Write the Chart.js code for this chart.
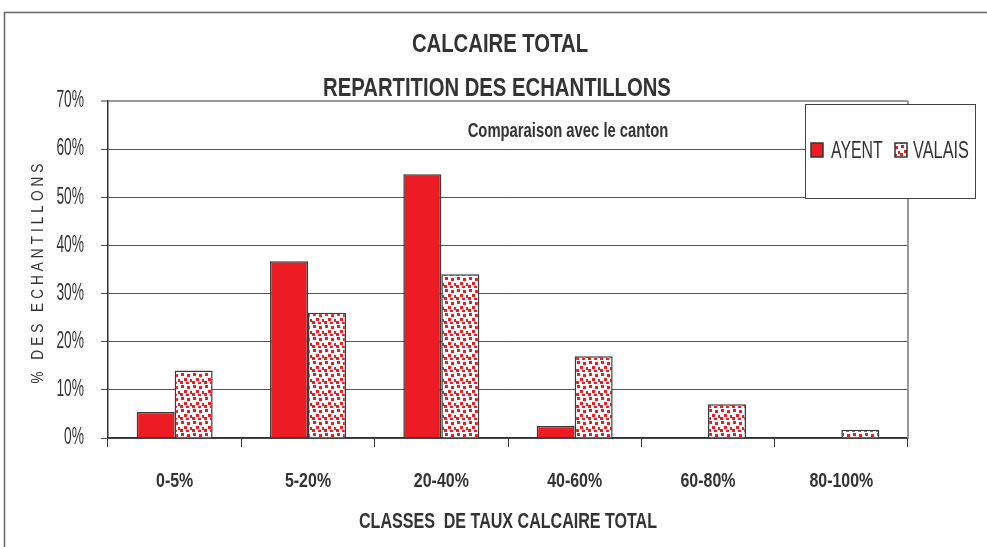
<!DOCTYPE html>
<html>
<head>
<meta charset="utf-8">
<title>Calcaire total</title>
<script src="https://cdn.jsdelivr.net/npm/chart.js@4.4.1/dist/chart.umd.min.js"></script>
<style>
  html, body { margin: 0; padding: 0; background: #fff; }
  #chart { display: block; }
</style>
</head>
<body>
<canvas id="chart" width="987" height="547"></canvas>
<script>
    // Chart data
    const categories = ['0-5%', '5-20%', '20-40%', '40-60%', '60-80%', '80-100%'];
    const ayentValues = [5.4, 36.7, 54.8, 2.5, 0, 0];
    const valaisValues = [14, 26, 34, 17, 7, 1.7];
    const yTicks = [0, 10, 20, 30, 40, 50, 60, 70];

    const RED = '#ed1c24';
    const TEXT = '#333333';
    const FONT = "'Liberation Sans', Arial, sans-serif";

    // Red squares on white, used for the VALAIS bars
    function makeDotPattern() {
      const tile = document.createElement('canvas');
      tile.width = 12;
      tile.height = 12;
      const t = tile.getContext('2d');
      t.fillStyle = '#ffffff';
      t.fillRect(0, 0, 12, 12);
      t.fillStyle = RED;
      [[1, 1], [7, 2], [4, 6], [10, 7], [0, 9], [6, 10]].forEach(p => {
        t.fillRect(p[0], p[1], 3, 3);
      });
      return document.getElementById('chart').getContext('2d').createPattern(tile, 'repeat');
    }

    const dots = makeDotPattern();

    // The original font is a tall condensed face, so squeeze the text horizontally
    function narrowText(ctx, text, x, y, font, sx, align) {
      ctx.save();
      ctx.translate(x, y);
      ctx.scale(sx, 1);
      ctx.font = font;
      ctx.textAlign = align || 'center';
      ctx.textBaseline = 'middle';
      ctx.fillText(text, 0, 0);
      ctx.restore();
    }

    // Frame, titles, tick labels, axis titles and legend box
    const decorPlugin = {
      id: 'decor',
      beforeDraw(chart) {
        const ctx = chart.ctx;
        ctx.save();
        ctx.fillStyle = '#ffffff';
        ctx.fillRect(0, 0, chart.width, chart.height);
        ctx.strokeStyle = '#666666';
        ctx.lineWidth = 1.5;
        ctx.beginPath();
        ctx.moveTo(4.5, chart.height + 2);
        ctx.lineTo(4.5, 12.5);
        ctx.lineTo(chart.width + 2, 12.5);
        ctx.stroke();
        ctx.restore();
      },
      afterDraw(chart) {
        const ctx = chart.ctx;
        const area = chart.chartArea;
        const xScale = chart.scales.x;
        const yScale = chart.scales.y;
        ctx.save();

        // right border of the plot area
        ctx.strokeStyle = '#999999';
        ctx.lineWidth = 2;
        ctx.beginPath();
        ctx.moveTo(area.right, area.top);
        ctx.lineTo(area.right, area.bottom);
        ctx.stroke();

        ctx.fillStyle = TEXT;

        // tick labels, placed by the scales
        yScale.ticks.forEach((tick, i) => {
          narrowText(ctx, tick.label, 84, yScale.getPixelForTick(i), '23px ' + FONT, 0.6, 'right');
        });
        xScale.ticks.forEach((tick, i) => {
          narrowText(ctx, tick.label, xScale.getPixelForTick(i), 481, 'bold 21px ' + FONT, 0.76);
        });

        // titles
        narrowText(ctx, 'CALCAIRE TOTAL', 500, 45, 'bold 26px ' + FONT, 0.78);
        narrowText(ctx, 'REPARTITION DES ECHANTILLONS', 497, 89, 'bold 26px ' + FONT, 0.78);
        narrowText(ctx, 'Comparaison avec le canton', 568, 131, 'bold 20px ' + FONT, 0.74);

        // x axis title
        narrowText(ctx, 'CLASSES  DE TAUX CALCAIRE TOTAL', 508, 522, 'bold 22px ' + FONT, 0.73);

        // y axis title, spaced letters
        ctx.save();
        ctx.translate(38, 274);
        ctx.rotate(-Math.PI / 2);
        ctx.scale(0.8, 1);
        ctx.font = '17px ' + FONT;
        ctx.letterSpacing = '5px';
        ctx.textAlign = 'center';
        ctx.textBaseline = 'middle';
        ctx.fillText('% DES ECHANTILLONS', 3, 0);
        ctx.restore();

        // legend box
        ctx.fillStyle = '#ffffff';
        ctx.fillRect(805, 104, 170, 94);
        ctx.strokeStyle = '#444444';
        ctx.lineWidth = 1;
        ctx.strokeRect(805.5, 104.5, 170, 94);

        ctx.lineWidth = 1.5;
        ctx.strokeStyle = '#333333';
        ctx.fillStyle = RED;
        ctx.fillRect(811, 143, 12, 14);
        ctx.strokeRect(811, 143, 12, 14);
        ctx.fillStyle = dots;
        ctx.fillRect(895, 143, 12, 14);
        ctx.strokeRect(895, 143, 12, 14);

        ctx.fillStyle = TEXT;
        narrowText(ctx, 'AYENT', 831, 151, '24px ' + FONT, 0.66, 'left');
        narrowText(ctx, 'VALAIS', 913, 151, '24px ' + FONT, 0.68, 'left');

        ctx.restore();
      }
    };

    const barChart = new Chart(document.getElementById('chart'), {
      type: 'bar',
      data: {
        labels: categories,
        datasets: [
          {
            label: 'AYENT',
            data: ayentValues,
            backgroundColor: RED,
            borderColor: '#3a3a3a',
            borderWidth: 1.5,
            categoryPercentage: 0.57,
            barPercentage: 1.0
          },
          {
            label: 'VALAIS',
            data: valaisValues,
            backgroundColor: dots,
            borderColor: '#3a3a3a',
            borderWidth: 1.5,
            categoryPercentage: 0.57,
            barPercentage: 1.0
          }
        ]
      },
      options: {
        responsive: false,
        animation: false,
        devicePixelRatio: 1,
        layout: {
          padding: { top: 101, right: 79, left: 0, bottom: 0 }
        },
        scales: {
          x: {
            afterFit: s => { s.height = 109; },
            grid: {
              offset: true,
              drawOnChartArea: false,
              drawTicks: true,
              tickLength: 9,
              color: '#333333'
            },
            border: { display: true, color: '#333333', width: 1.5 },
            ticks: { display: false }
          },
          y: {
            min: 0,
            max: 70,
            afterFit: s => { s.width = 108; },
            afterBuildTicks: s => { s.ticks = yTicks.map(v => ({ value: v })); },
            grid: {
              tickLength: 7,
              color: ctx => (ctx.tick && ctx.tick.value === 70 ? '#999999' : '#555555'),
              lineWidth: ctx => (ctx.tick && ctx.tick.value === 70 ? 2 : 1)
            },
            border: { display: true, color: '#333333', width: 1.5 },
            ticks: {
              display: false,
              callback: v => v + '%'
            }
          }
        },
        plugins: {
          legend: { display: false },
          tooltip: { enabled: false }
        }
      },
      plugins: [decorPlugin]
    });
</script>
</body>
</html>
